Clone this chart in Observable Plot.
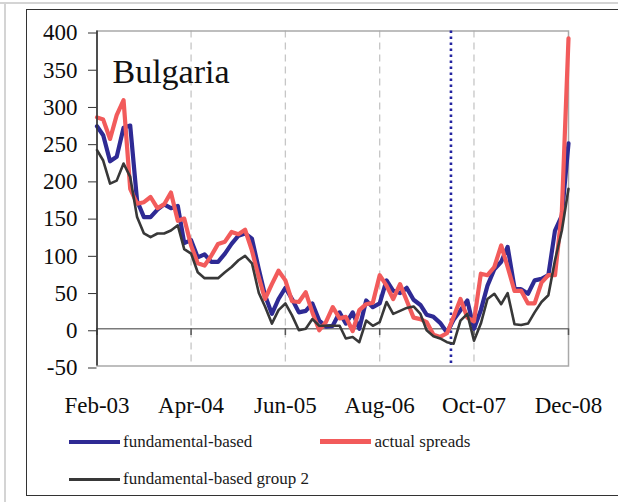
<!DOCTYPE html>
<html>
<head>
<meta charset="utf-8">
<script src="https://cdn.jsdelivr.net/npm/d3@7"></script>
<script src="https://cdn.jsdelivr.net/npm/@observablehq/plot@0.6"></script>
<style>
  body { margin: 0; background: #fff; }
  #page { position: relative; width: 618px; height: 502px; overflow: hidden; background: #fff; font-family: "Liberation Serif", "Times New Roman", serif; }
  .abs { position: absolute; }
  .lg-text { position: absolute; font-size: 17px; line-height: 17px; color: #1a1a1a; white-space: nowrap; }
</style>
</head>
<body>
<div id="page">
  <div class="abs" style="left:0;top:2px;width:618px;height:2px;background:#d4d4d4"></div>
  <div class="abs" style="left:4px;top:2px;width:2px;height:500px;background:#d4d4d4"></div>
  <div class="abs" style="left:26px;top:9px;width:640px;height:487px;border:1.5px solid #333;box-sizing:border-box"></div>
  <div id="chart" class="abs" style="left:0;top:0"></div>
  <div id="legend"></div>
</div>
<script>
// ---- data ----
const startMonth = "Feb-03";
const endMonth = "Dec-08";
const xTickLabels = ["Feb-03", "Apr-04", "Jun-05", "Aug-06", "Oct-07", "Dec-08"];
const yTicks = [-50, 0, 50, 100, 150, 200, 250, 300, 350, 400];
const title = "Bulgaria";
const eventDate = "2007-06-19";
const seriesNames = ["fundamental-based", "actual spreads", "fundamental-based group 2"];

const fundamentalBased = [272,260,225,231,270,273,172,150,150,160,
  167,162,165,115,119,96,100,90,90,101,
  114,125,128,121,80,45,20,40,55,40,
  22,24,34,11,3,4,22,7,22,0,
  38,29,34,65,51,48,55,39,32,19,
  16,8,-5,12,25,38,0,25,58,80,
  90,110,55,53,47,65,67,72,132,152,249];
const actualSpreads = [284,281,255,287,307,188,168,170,177,162,
  167,183,145,148,112,88,85,98,114,117,
  130,127,133,105,69,40,60,78,65,37,
  36,49,22,-2,9,29,14,16,-3,25,
  33,35,72,58,40,60,38,15,13,9,
  -8,-11,-6,16,40,15,10,74,72,83,
  112,83,51,51,34,34,62,72,72,158,390];
const fundamentalGroup2 = [240,226,195,199,222,204,150,128,123,128,
  128,132,139,107,101,76,68,68,68,76,
  83,92,98,88,48,30,7,25,34,18,
  -2,0,13,4,4,4,4,-13,-11,-18,
  11,4,9,36,20,24,28,30,20,-2,
  -10,-13,-18,-20,11,20,-16,7,40,47,
  33,48,6,5,7,22,36,45,92,132,188];

// ---- build ----
const parseM = d3.utcParse("%b-%y");
const fmtM = d3.utcFormat("%b-%y");
const d0 = parseM(startMonth), d1 = parseM(endMonth);
const months = d3.utcMonth.range(d0, d3.utcMonth.offset(d1, 1));
const table = months.map((date, i) => ({
  date,
  fundamental: fundamentalBased[i],
  actual: actualSpreads[i],
  group2: fundamentalGroup2[i]
}));
const tickDates = xTickLabels.map(parseM);
const gridDates = tickDates.slice(1, -1);
const colors = ["#2e2a94", "#f25b5b", "#383838"];

const chart = Plot.plot({
  width: 618,
  height: 425,
  marginLeft: 96.5,
  marginRight: 50,
  marginTop: 30.5,
  marginBottom: 59.5,
  style: { fontFamily: "'Liberation Serif', 'Times New Roman', serif", background: "transparent", color: "#0d0d0d", overflow: "visible" },
  x: { type: "utc", domain: [d0, d1] },
  y: { domain: [-50, 400] },
  marks: [
    Plot.ruleX(gridDates, { stroke: "#c6c6c6", strokeWidth: 1.3, strokeDasharray: "7,5" }),
    Plot.frame({ stroke: "#a9a9a9", strokeWidth: 1.5 }),
    Plot.ruleY([0], { stroke: "#7a7a7a", strokeWidth: 1.6 }),
    Plot.ruleX(tickDates, { y1: 0, y2: -9, stroke: "#555", strokeWidth: 1.5 }),
    Plot.ruleX([new Date(eventDate)], { stroke: "#2424a0", strokeWidth: 2.6, strokeDasharray: "2.4,3.6" }),
    Plot.line(table, { x: "date", y: "fundamental", stroke: colors[0], strokeWidth: 4.2 }),
    Plot.line(table, { x: "date", y: "actual", stroke: colors[1], strokeWidth: 4.2 }),
    Plot.line(table, { x: "date", y: "group2", stroke: colors[2], strokeWidth: 2.6 }),
    Plot.ruleX([d0], { stroke: "#333", strokeWidth: 1.6 }),
    Plot.axisY({ ticks: yTicks, tickSize: 8.5, tickPadding: 11, fontSize: 23, dy: 2, stroke: "#333", tickFormat: d => String(d) }),
    Plot.axisX({ ticks: tickDates, tickFormat: fmtM, tickSize: 0, tickPadding: 31, fontSize: 23 }),
    Plot.text([title], { text: d => d, frameAnchor: "top-left", textAnchor: "start", lineAnchor: "top", dx: 15.5, dy: 27.5, fontSize: 34, fill: "#111" })
  ]
});
document.getElementById("chart").appendChild(chart);

// ---- legend ----
const legendItems = [
  { name: seriesNames[0], color: colors[0], lx: 69, tx: 123, cy: 441.7, base: 447, h: 4 },
  { name: seriesNames[1], color: colors[1], lx: 320, tx: 374.5, cy: 441.7, base: 447, h: 4.5 },
  { name: seriesNames[2], color: colors[2], lx: 69, tx: 123, cy: 479, base: 484.5, h: 3 }
];
const lg = document.getElementById("legend");
legendItems.forEach(it => {
  const line = document.createElement("div");
  line.className = "abs";
  line.style.cssText = `left:${it.lx}px;top:${it.cy - it.h / 2}px;width:51px;height:${it.h}px;background:${it.color}`;
  lg.appendChild(line);
  const t = document.createElement("div");
  t.className = "lg-text";
  t.style.left = it.tx + "px";
  t.style.top = (it.base - 14.2) + "px";
  t.textContent = it.name;
  lg.appendChild(t);
});
</script>
</body>
</html>
